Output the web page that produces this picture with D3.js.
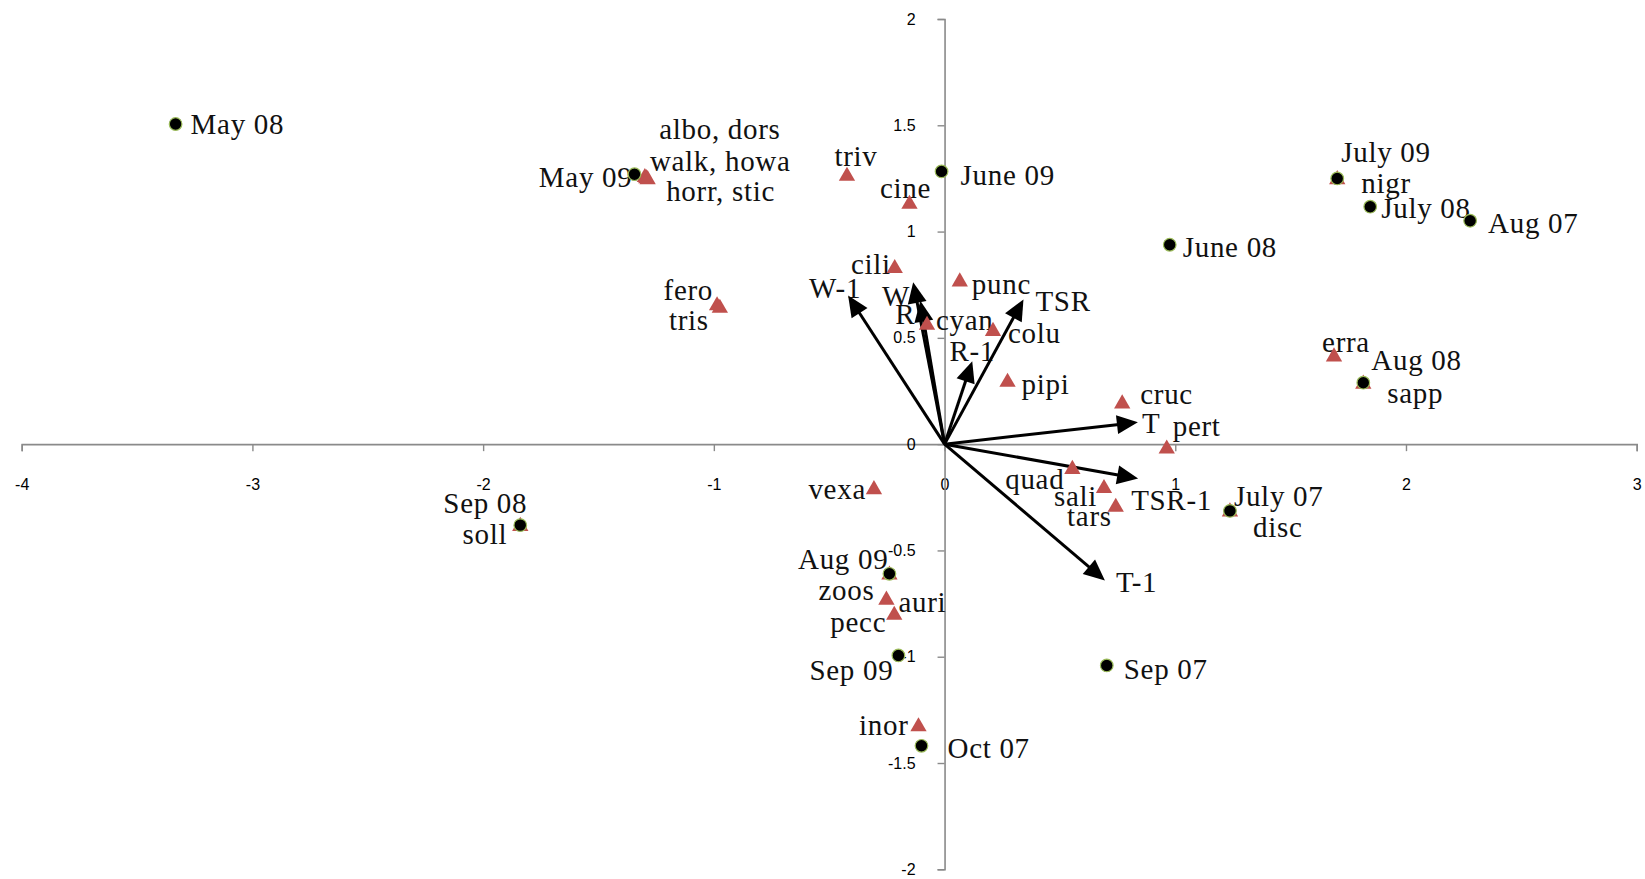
<!DOCTYPE html>
<html>
<head>
<meta charset="utf-8">
<script src="https://cdn.jsdelivr.net/npm/d3@7"></script>
<style>
  html, body { margin: 0; padding: 0; background: #ffffff; }
  svg { display: block; }
</style>
</head>
<body>
<svg id="chart" width="1645" height="879"></svg>
<script>
// ---- Ordination scores ----------------------------------------------------

// Sampling dates (sample scores)
const sampleNames = ["May 08", "May 09", "June 09", "July 09", "July 08", "Aug 07", "June 08",
                     "Aug 08", "July 07", "Sep 07", "Sep 08", "Aug 09", "Sep 09", "Oct 07"];
const sampleAxis1 = [-3.333, -1.344, -0.013, 1.702, 1.845, 2.278, 0.976,
                      1.815, 1.237, 0.703, -1.839, -0.239, -0.200, -0.100];
const sampleAxis2 = [1.506, 1.270, 1.283, 1.250, 1.117, 1.051, 0.938,
                     0.289, -0.314, -1.041, -0.381, -0.610, -0.994, -1.419];

// Species (species scores)
const speciesNames = ["albo, dors", "walk, howa", "horr, stic", "triv", "cine", "cili", "punc",
                      "fero", "tris", "cyan", "colu", "pipi", "cruc", "pert", "quad", "sali",
                      "tars", "disc", "erra", "sapp", "nigr", "soll", "vexa", "zoos", "auri",
                      "pecc", "inor"];
const speciesAxis1 = [-1.299, -1.293, -1.287, -0.423, -0.152, -0.216, 0.066,
                      -0.986, -0.974, -0.076, 0.210, 0.273, 0.770, 0.963, 0.554, 0.691,
                      0.742, 1.237, 1.688, 1.815, 1.702, -1.839, -0.306, -0.239, -0.252,
                      -0.218, -0.113];
const speciesAxis2 = [1.255, 1.250, 1.245, 1.261, 1.129, 0.827, 0.764,
                      0.652, 0.640, 0.560, 0.531, 0.292, 0.190, -0.022, -0.118, -0.208,
                      -0.296, -0.318, 0.411, 0.283, 1.245, -0.386, -0.213, -0.615, -0.733,
                      -0.804, -1.329];

// Environmental variables (biplot arrows)
const envNames = ["W-1", "W", "R", "R-1", "TSR", "T", "TSR-1", "T-1"];
const envAxis1 = [-0.418, -0.136, -0.105, 0.120, 0.342, 0.838, 0.839, 0.695];
const envAxis2 = [0.699, 0.762, 0.675, 0.390, 0.681, 0.103, -0.162, -0.641];

// Axis ticks
const xTicks = [-4, -3, -2, -1, 0, 1, 2, 3];
const yTicks = [-2, -1.5, -1, -0.5, 0, 0.5, 1, 1.5, 2];

// ---- Label placement (pixel offsets from each mark) -----------------------
const labelPlacement = {
  "May 08":  ["start", 15, 0],   "May 09":  ["end", -2, 3],
  "June 09": ["start", 19, 3],   "July 09": ["start", 4, -27],
  "July 08": ["start", 11, 1],   "Aug 07":  ["start", 18, 2],
  "June 08": ["start", 13, 2],   "Aug 08":  ["start", 8, -23],
  "July 07": ["start", 4, -15],  "Sep 07":  ["start", 17, 3],
  "Sep 08":  ["end", 7, -22],    "Aug 09":  ["end", -1, -15],
  "Sep 09":  ["end", -5, 14],    "Oct 07":  ["start", 26, 2],

  "albo, dors": ["middle", 75, -49], "walk, howa": ["middle", 74, -18],
  "horr, stic": ["middle", 73, 11],  "triv": ["middle", 9, -20],
  "cine": ["middle", -4, -16], "cili": ["end", -4, -5],
  "punc": ["start", 12, 2],    "fero": ["end", -4, -16],
  "tris": ["end", -11, 12],    "cyan": ["start", 9, -5],
  "colu": ["start", 15, 2],    "pipi": ["start", 14, 2],
  "cruc": ["start", 18, -10],  "pert": ["start", 6, -23],
  "quad": ["end", -8, 10],     "sali": ["end", -7, 7],
  "tars": ["end", -4, 9],      "disc": ["start", 23, 15],
  "erra": ["middle", 12, -15], "sapp": ["start", 24, 9],
  "nigr": ["start", 24, 3],    "soll": ["end", -13, 8],
  "vexa": ["end", -8, -1],     "zoos": ["end", -15, 15],
  "auri": ["start", 12, 2],    "pecc": ["end", -8, 7],
  "inor": ["end", -10, -2],

  "W-1": ["end", 13, -8],  "W": ["end", -3, 14],
  "R": ["end", -5, 13],    "R-1": ["middle", 0, -10],
  "TSR": ["start", 12, 1], "T": ["start", 4, 1],
  "TSR-1": ["start", -7, 21], "T-1": ["start", 11, 1]
};

// ---- Scales ---------------------------------------------------------------
const x = d3.scaleLinear().domain([-4, 3]).range([21.7, 1636.7]);
const y = d3.scaleLinear().domain([-2, 2]).range([869.3, 19]);

const svg = d3.select("#chart");

const axisColor = "#8a8a8a";
const labelFont = "'Liberation Serif', 'Times New Roman', serif";
const tickFont = "'Liberation Sans', Arial, sans-serif";

// ---- Axes crossing at the origin ------------------------------------------
const xAxis = d3.axisBottom(x).tickValues(xTicks).tickSize(7).tickPadding(27)
  .tickFormat(d => String(d));
const yAxis = d3.axisLeft(y).tickValues(yTicks).tickSize(7).tickPadding(22)
  .tickFormat(d => String(d));

const gx = svg.append("g").attr("transform", `translate(0,${y(0)})`).call(xAxis);
const gy = svg.append("g").attr("transform", `translate(${x(0)},0)`).call(yAxis);

[gx, gy].forEach(g => {
  g.select(".domain").attr("stroke", axisColor).attr("stroke-width", 1.6);
  g.selectAll(".tick line").attr("stroke", axisColor).attr("stroke-width", 1.4);
  g.selectAll(".tick text")
    .attr("fill", "#000")
    .style("font-family", tickFont)
    .style("font-size", "16px");
});

// ---- Records --------------------------------------------------------------
const samples = sampleNames.map((n, i) => ({ name: n, a1: sampleAxis1[i], a2: sampleAxis2[i] }));
const species = speciesNames.map((n, i) => ({ name: n, a1: speciesAxis1[i], a2: speciesAxis2[i] }));
const envVars = envNames.map((n, i) => ({ name: n, a1: envAxis1[i], a2: envAxis2[i] }));

// ---- Labels (drawn beneath the arrows) ------------------------------------
const allLabels = [...species, ...samples, ...envVars];
svg.append("g")
  .selectAll("text")
  .data(allLabels)
  .join("text")
  .attr("x", d => x(d.a1) + labelPlacement[d.name][1])
  .attr("y", d => y(d.a2) + labelPlacement[d.name][2])
  .attr("dy", "0.35em")
  .attr("text-anchor", d => labelPlacement[d.name][0])
  .attr("fill", "#111")
  .style("font-family", labelFont)
  .style("font-size", "29px")
  .style("letter-spacing", "0.7px")
  .text(d => d.name);

// ---- Environmental arrows -------------------------------------------------
const headLen = 21, headHalf = 9.5;
const arrows = svg.append("g");
envVars.forEach(d => {
  const ox = x(0), oy = y(0);
  const tx = x(d.a1), ty = y(d.a2);
  const len = Math.hypot(tx - ox, ty - oy);
  const ux = (tx - ox) / len, uy = (ty - oy) / len;
  const bx = tx - ux * headLen, by = ty - uy * headLen;
  arrows.append("line")
    .attr("x1", ox).attr("y1", oy)
    .attr("x2", bx + ux * 2).attr("y2", by + uy * 2)
    .attr("stroke", "#000").attr("stroke-width", 3);
  arrows.append("polygon")
    .attr("points", [
      [tx, ty],
      [bx - uy * headHalf, by + ux * headHalf],
      [bx + uy * headHalf, by - ux * headHalf]
    ].map(p => p.join(",")).join(" "))
    .attr("fill", "#000");
});

// ---- Species triangles ----------------------------------------------------
const tri = d3.symbol().type(d3.symbolTriangle).size(115);
svg.append("g")
  .selectAll("path")
  .data(species)
  .join("path")
  .attr("d", tri)
  .attr("transform", d => `translate(${x(d.a1)},${y(d.a2)})`)
  .attr("fill", "#c0504d");

// ---- Sample points --------------------------------------------------------
svg.append("g")
  .selectAll("circle")
  .data(samples)
  .join("circle")
  .attr("cx", d => x(d.a1))
  .attr("cy", d => y(d.a2))
  .attr("r", 6.3)
  .attr("fill", "#000")
  .attr("stroke", "#9bbb59")
  .attr("stroke-width", 1.2);
</script>
</body>
</html>
